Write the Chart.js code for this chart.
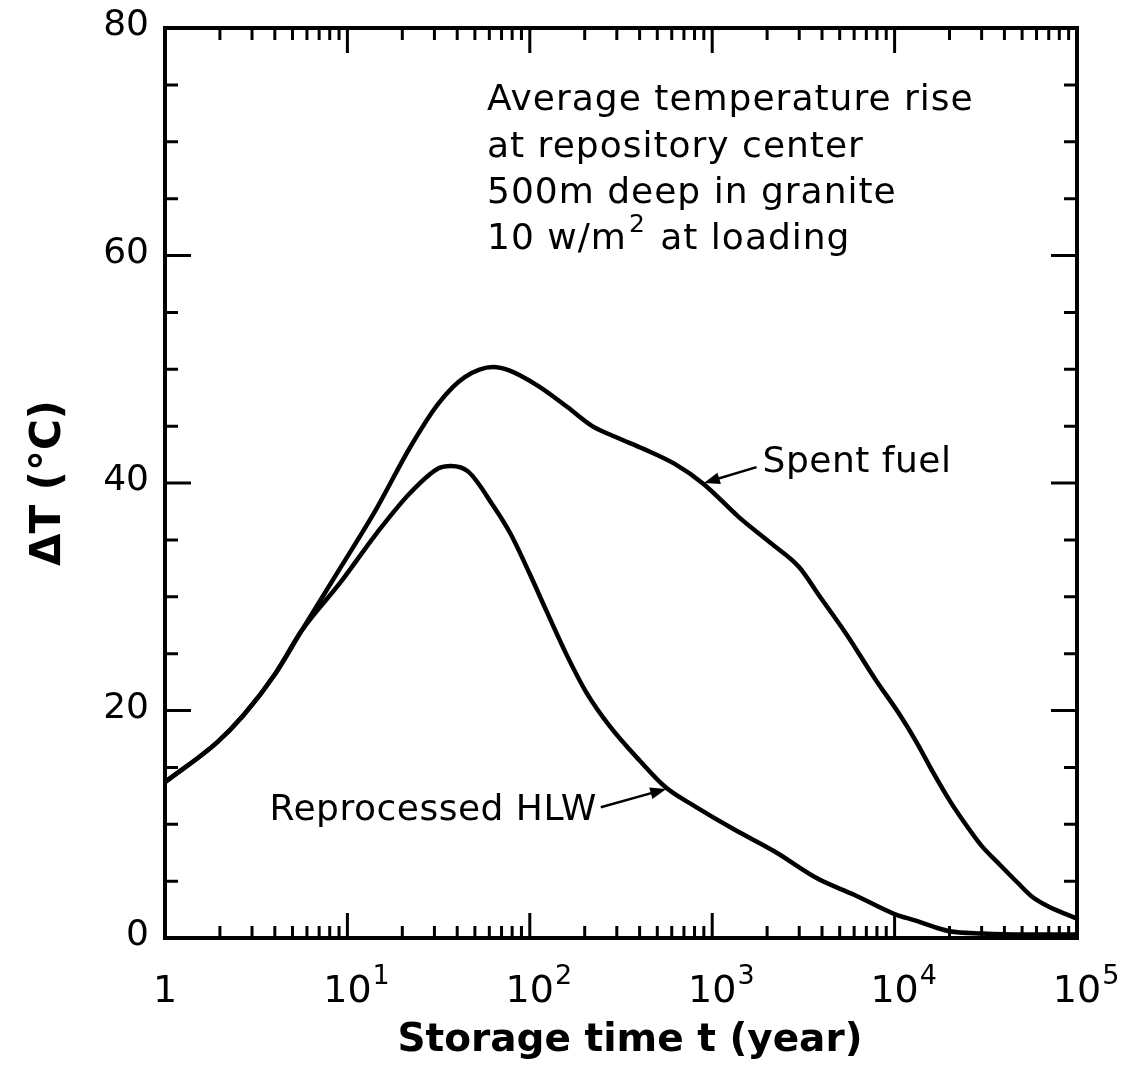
<!DOCTYPE html>
<html>
<head>
<meta charset="utf-8">
<script src="https://cdn.jsdelivr.net/npm/chart.js@4/dist/chart.umd.min.js"></script>
<style>
  html, body { margin: 0; padding: 0; background: #fff; }
  canvas { display: block; }
</style>
</head>
<body>
<canvas id="c" width="1126" height="1071"></canvas>
<script>
// ---- Data (t in years, ΔT in °C) ----
const spentFuelYears = [1, 1.93, 2.7, 4.05, 5.6, 9.2, 14.5, 22, 31.6, 44, 63, 77, 112, 160, 220, 300, 420, 620, 900, 1400, 2100, 3000, 3900, 5500, 7800, 10700, 13200, 16200, 20000, 25000, 30000, 38000, 47000, 57000, 71000, 87000, 100000];
const spentFuelDT    = [13.7, 17.2, 19.6, 23.3, 27.0, 32.6, 37.8, 43.1, 47.0, 49.3, 50.2, 49.9, 48.5, 46.7, 45.0, 44.0, 43.0, 41.7, 39.9, 37.0, 34.7, 32.6, 30.0, 26.6, 22.8, 19.6, 17.2, 14.6, 12.1, 9.8, 8.1, 6.4, 4.9, 3.6, 2.7, 2.1, 1.7];

const hlwYears = [1, 1.93, 2.7, 4.05, 5.6, 9.2, 14.5, 22, 31.6, 37, 46, 63, 78, 100, 123, 158, 204, 275, 400, 560, 800, 1300, 2200, 3800, 6000, 10000, 13200, 17000, 20000, 30000, 50000, 100000];
const hlwDT    = [13.7, 17.2, 19.6, 23.3, 27.0, 31.3, 35.6, 39.1, 41.3, 41.5, 41.0, 38.0, 35.6, 32.0, 28.8, 25.0, 21.6, 18.6, 15.6, 13.2, 11.6, 9.6, 7.6, 5.2, 3.8, 2.1, 1.5, 0.9, 0.6, 0.4, 0.3, 0.3];

const yTickValues = [0, 20, 40, 60, 80];
const xTickExponents = [0, 1, 2, 3, 4, 5];

const xTitle = 'Storage time t (year)';
const yTitle = 'ΔT (°C)';
const noteLines = ['Average temperature rise', 'at repository center', '500m deep in granite'];
const noteLast = ['10 w/m', '2', ' at loading'];
const spentLabel = 'Spent fuel';
const hlwLabel = 'Reprocessed HLW';

// annotation anchors in data units [years, °C]
const spentArrow = { tail: [1750, 41.4], head: [900, 40.0] };
const hlwArrow   = { tail: [245, 11.5], head: [560, 13.1] };

const FONT = '"DejaVu Sans", sans-serif';

function toPts(xs, ys) { return xs.map((t, i) => ({ x: t, y: ys[i] })); }

function arrow(ctx, x1, y1, x2, y2) {
  const ang = Math.atan2(y2 - y1, x2 - x1);
  const L = 16, W = 6;
  ctx.beginPath();
  ctx.moveTo(x1, y1);
  ctx.lineTo(x2 - Math.cos(ang) * L * 0.8, y2 - Math.sin(ang) * L * 0.8);
  ctx.stroke();
  ctx.beginPath();
  ctx.moveTo(x2, y2);
  ctx.lineTo(x2 - L * Math.cos(ang) + W * Math.sin(ang), y2 - L * Math.sin(ang) - W * Math.cos(ang));
  ctx.lineTo(x2 - L * Math.cos(ang) - W * Math.sin(ang), y2 - L * Math.sin(ang) + W * Math.cos(ang));
  ctx.closePath();
  ctx.fill();
}

const decor = {
  id: 'decor',
  afterDatasetsDraw(chart) {
    const { ctx, chartArea: a, scales: { x, y } } = chart;
    ctx.save();
    ctx.strokeStyle = '#000';
    ctx.fillStyle = '#000';
    ctx.lineCap = 'butt';
    // frame
    ctx.lineWidth = 4;
    ctx.strokeRect(a.left, a.top, a.right - a.left, a.bottom - a.top);
    // inward ticks
    ctx.lineWidth = 3;
    ctx.beginPath();
    for (let v = 5; v < 80; v += 5) {
      const py = y.getPixelForValue(v);
      const len = v % 20 === 0 ? 26 : 13;
      ctx.moveTo(a.left, py); ctx.lineTo(a.left + len, py);
      ctx.moveTo(a.right, py); ctx.lineTo(a.right - len, py);
    }
    for (let d = 0; d < 5; d++) {
      for (let k = 1; k <= 9; k++) {
        if (d === 0 && k === 1) continue;
        const px = x.getPixelForValue(k * Math.pow(10, d));
        const len = k === 1 ? 25 : 12;
        ctx.moveTo(px, a.bottom); ctx.lineTo(px, a.bottom - len);
        ctx.moveTo(px, a.top); ctx.lineTo(px, a.top + len);
      }
    }
    ctx.stroke();

    // y tick labels
    ctx.font = `36px ${FONT}`;
    ctx.textAlign = 'right';
    ctx.textBaseline = 'middle';
    yTickValues.forEach(v => ctx.fillText(String(v), a.left - 16, y.getPixelForValue(v) - 2));

    // x tick labels with superscripts
    ctx.textBaseline = 'alphabetic';
    xTickExponents.forEach(e => {
      const px = x.getPixelForValue(Math.pow(10, e));
      const base = a.bottom + 64;
      ctx.font = `38px ${FONT}`;
      ctx.textAlign = 'center';
      if (e === 0) {
        ctx.fillText('1', px, base);
      } else {
        ctx.fillText('10', px, base);
        const w = ctx.measureText('10').width;
        ctx.font = `27px ${FONT}`;
        ctx.textAlign = 'left';
        ctx.fillText(String(e), px + w / 2 + 1, base - 18);
      }
    });

    // axis titles
    ctx.font = `bold 39px ${FONT}`;
    ctx.textAlign = 'center';
    ctx.fillText(xTitle, (a.left + a.right) / 2 + 9, a.bottom + 113);
    ctx.save();
    ctx.translate(60, y.getPixelForValue(40));
    ctx.rotate(-Math.PI / 2);
    ctx.font = `bold 42px ${FONT}`;
    ctx.fillText(yTitle, 0, 0);
    ctx.restore();

    // note block
    ctx.textAlign = 'left';
    ctx.font = `36px ${FONT}`;
    ctx.letterSpacing = '1px';
    const nx = x.getPixelForValue(Math.pow(10, (487 - 165) / 182.4));
    const baselines = [y.getPixelForValue(72.8), y.getPixelForValue(68.7), y.getPixelForValue(64.6)];
    noteLines.forEach((t, i) => ctx.fillText(t, nx, baselines[i]));
    const b4 = y.getPixelForValue(60.6);
    ctx.fillText(noteLast[0], nx, b4);
    const w0 = ctx.measureText(noteLast[0]).width;
    ctx.font = `25px ${FONT}`;
    ctx.fillText(noteLast[1], nx + w0 + 2, b4 - 17);
    const w1 = ctx.measureText(noteLast[1]).width;
    ctx.font = `36px ${FONT}`;
    ctx.fillText(noteLast[2], nx + w0 + w1 + 4, b4);

    // curve labels
    ctx.font = `36px ${FONT}`;
    ctx.letterSpacing = '0.5px';
    ctx.textBaseline = 'middle';
    const st = [x.getPixelForValue(spentArrow.tail[0]), y.getPixelForValue(spentArrow.tail[1])];
    ctx.fillText(spentLabel, st[0] + 6, st[1] - 4);
    const ht = [x.getPixelForValue(hlwArrow.tail[0]), y.getPixelForValue(hlwArrow.tail[1])];
    ctx.textAlign = 'right';
    ctx.fillText(hlwLabel, ht[0] - 4, ht[1] + 3);
    ctx.letterSpacing = '0px';

    // arrows
    ctx.lineWidth = 2.5;
    arrow(ctx, st[0], st[1], x.getPixelForValue(spentArrow.head[0]), y.getPixelForValue(spentArrow.head[1]));
    arrow(ctx, ht[0], ht[1], x.getPixelForValue(hlwArrow.head[0]), y.getPixelForValue(hlwArrow.head[1]));
    ctx.restore();
  }
};

new Chart(document.getElementById('c'), {
  type: 'line',
  data: {
    datasets: [
      { label: spentLabel, data: toPts(spentFuelYears, spentFuelDT), borderColor: '#000', borderWidth: 4.5, pointRadius: 0, cubicInterpolationMode: 'monotone', fill: false },
      { label: hlwLabel, data: toPts(hlwYears, hlwDT), borderColor: '#000', borderWidth: 4.5, pointRadius: 0, cubicInterpolationMode: 'monotone', fill: false }
    ]
  },
  options: {
    responsive: false,
    animation: false,
    events: [],
    layout: { padding: { top: 28, right: 49, left: 0, bottom: 0 } },
    plugins: { legend: { display: false }, tooltip: { enabled: false }, title: { display: false } },
    scales: {
      x: {
        type: 'logarithmic', min: 1, max: 100000,
        grid: { display: false, drawTicks: false },
        border: { display: false },
        ticks: { display: false },
        afterFit(s) { s.height = 133; }
      },
      y: {
        type: 'linear', min: 0, max: 80,
        grid: { display: false, drawTicks: false },
        border: { display: false },
        ticks: { display: false, stepSize: 20 },
        afterFit(s) { s.width = 165; }
      }
    }
  },
  plugins: [decor]
});
</script>
</body>
</html>
